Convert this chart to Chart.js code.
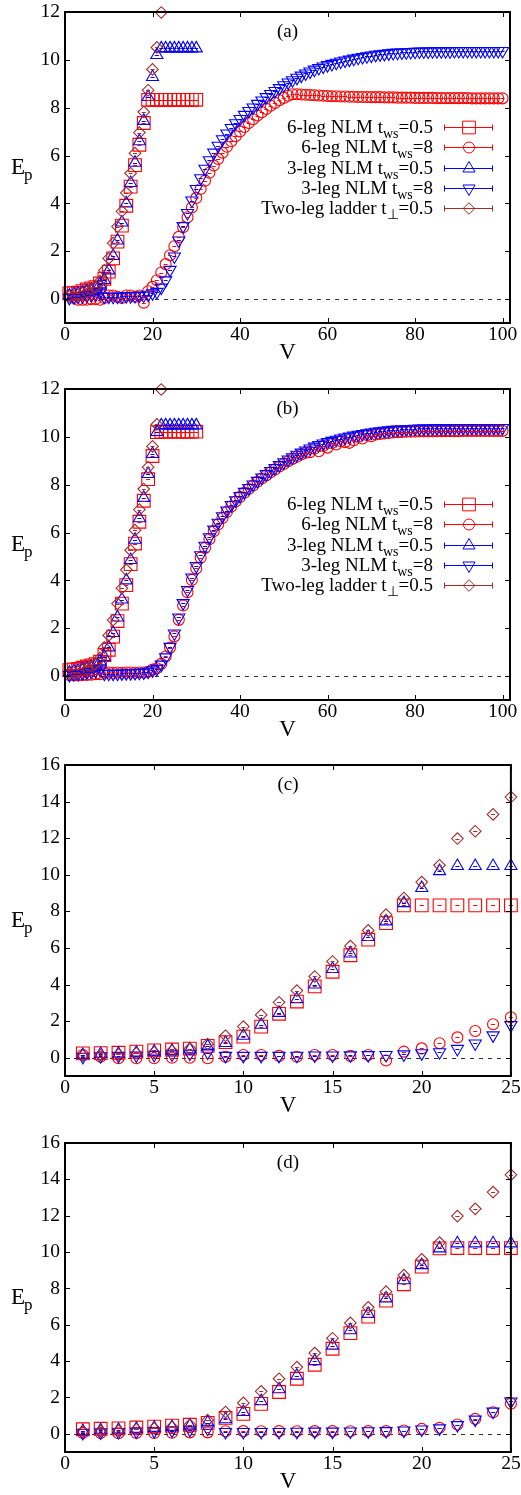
<!DOCTYPE html>
<html>
<head>
<meta charset="utf-8">
<title>Ep vs V</title>
<script src="https://cdn.jsdelivr.net/npm/chart.js@4.4.1/dist/chart.umd.min.js"></script>
<style>
  body { margin: 0; background: #fff; }
  canvas { display: block; }
</style>
</head>
<body>
<canvas id="panelA" width="521" height="370"></canvas>
<canvas id="panelB" width="521" height="370"></canvas>
<canvas id="panelC" width="521" height="380"></canvas>
<canvas id="panelD" width="521" height="375"></canvas>
<script>
// V grids
const vShort = [1, 2, 3, 4, 5, 6, 7, 8, 9, 10, 11, 12, 13, 14, 15, 16, 17, 18, 19, 20,
  21, 22, 23, 24, 25, 26, 27, 28, 29, 30];
const vLong = [1, 2, 3, 4, 5, 6, 7, 8, 9, 10, 11, 12, 13, 14, 15, 16, 17, 18, 19, 20,
  21, 22, 23, 24, 25, 26, 27, 28, 29, 30, 31, 32, 33, 34, 35, 36, 37, 38, 39, 40,
  41, 42, 43, 44, 45, 46, 47, 48, 49, 50, 51, 52, 53, 54, 55, 56, 57, 58, 59, 60,
  61, 62, 63, 64, 65, 66, 67, 68, 69, 70, 71, 72, 73, 74, 75, 76, 77, 78, 79, 80,
  81, 82, 83, 84, 85, 86, 87, 88, 89, 90, 91, 92, 93, 94, 95, 96, 97, 98, 99, 100];

// 6-leg NLM, t_ws = 0.5 (top row: a/c, bottom row: b/d)
const ep6ws05A = [0.24, 0.25, 0.27, 0.33, 0.40, 0.45, 0.50, 0.65, 0.85, 1.15,
  1.70, 2.40, 3.07, 3.90, 4.70, 5.60, 6.45, 7.36, 8.33, 8.33,
  8.33, 8.33, 8.33, 8.33, 8.33, 8.33, 8.33, 8.33, 8.33, 8.33];
const ep6ws05B = [0.25, 0.28, 0.30, 0.35, 0.40, 0.45, 0.50, 0.60, 0.88, 1.10,
  1.65, 2.30, 3.03, 3.80, 4.68, 5.54, 6.45, 7.33, 8.23, 9.20,
  10.20, 10.22, 10.22, 10.22, 10.22, 10.22, 10.22, 10.22, 10.22, 10.22];

// 6-leg NLM, t_ws = 8
const ep6ws8A = [0.15, 0.05, -0.03, -0.03, -0.03, 0.00, 0.00, -0.03, 0.05, 0.15,
  0.15, 0.10, 0.05, 0.15, 0.15, 0.10, 0.15, -0.15, 0.33, 0.51,
  0.79, 1.11, 1.46, 1.83, 2.21, 2.60, 3.00, 3.42, 3.83, 4.23,
  4.60, 4.95, 5.28, 5.58, 5.86, 6.12, 6.37, 6.60, 6.81, 7.01,
  7.19, 7.36, 7.52, 7.67, 7.81, 7.95, 8.08, 8.20, 8.31, 8.41,
  8.50, 8.56, 8.56, 8.55, 8.54, 8.53, 8.52, 8.51, 8.50, 8.49,
  8.48, 8.48, 8.47, 8.47, 8.46, 8.46, 8.45, 8.45, 8.45, 8.44,
  8.44, 8.44, 8.43, 8.43, 8.43, 8.42, 8.42, 8.42, 8.42, 8.41,
  8.41, 8.41, 8.41, 8.41, 8.40, 8.40, 8.40, 8.40, 8.40, 8.40,
  8.40, 8.40, 8.39, 8.39, 8.39, 8.39, 8.39, 8.39, 8.39, 8.39];
const ep6ws8B = [0.05, 0.04, 0.03, 0.05, 0.05, 0.06, 0.08, 0.08, 0.14, 0.15,
  0.14, 0.15, 0.14, 0.15, 0.15, 0.14, 0.15, 0.15, 0.18, 0.27,
  0.33, 0.51, 0.82, 1.19, 1.66, 2.35, 2.95, 3.50, 4.02, 4.50,
  4.95, 5.36, 5.72, 6.05, 6.34, 6.61, 6.86, 7.09, 7.30, 7.49,
  7.66, 7.82, 7.97, 8.12, 8.26, 8.39, 8.52, 8.64, 8.76, 8.87,
  8.98, 9.08, 9.17, 9.26, 9.34, 9.36, 9.50, 9.40, 9.62, 9.55,
  9.74, 9.68, 9.82, 9.78, 9.75, 9.86, 10.00, 9.93, 10.08, 10.03,
  10.10, 10.12, 10.14, 10.16, 10.18, 10.19, 10.20, 10.21, 10.22, 10.22,
  10.23, 10.23, 10.23, 10.23, 10.24, 10.24, 10.24, 10.24, 10.24, 10.24,
  10.25, 10.25, 10.25, 10.25, 10.25, 10.25, 10.25, 10.25, 10.25, 10.25];

// 3-leg NLM, t_ws = 0.5 and t_ws = 8
const ep3ws05 = [0.15, 0.20, 0.22, 0.28, 0.33, 0.38, 0.45, 0.62, 0.80, 1.20,
  1.80, 2.45, 3.20, 4.00, 4.85, 5.70, 6.60, 7.45, 8.45, 9.28,
  10.20, 10.48, 10.48, 10.48, 10.48, 10.48, 10.48, 10.48, 10.48, 10.48];
const ep3ws8 = [0.05, 0.08, 0.10, 0.12, 0.15, 0.18, 0.22, 0.28, 0.10, 0.10,
  0.10, 0.10, 0.11, 0.12, 0.12, 0.13, 0.14, 0.15, 0.18, 0.24,
  0.30, 0.48, 0.78, 1.22, 1.78, 2.45, 3.05, 3.60, 4.12, 4.60,
  5.05, 5.45, 5.80, 6.12, 6.41, 6.68, 6.92, 7.15, 7.35, 7.53,
  7.70, 7.86, 8.01, 8.16, 8.30, 8.44, 8.57, 8.70, 8.82, 8.94,
  9.05, 9.15, 9.25, 9.34, 9.43, 9.51, 9.59, 9.66, 9.72, 9.78,
  9.83, 9.88, 9.93, 9.97, 10.01, 10.05, 10.09, 10.12, 10.15, 10.18,
  10.21, 10.23, 10.25, 10.27, 10.29, 10.30, 10.31, 10.32, 10.33, 10.34,
  10.35, 10.35, 10.35, 10.36, 10.36, 10.36, 10.36, 10.36, 10.37, 10.37,
  10.37, 10.37, 10.37, 10.37, 10.37, 10.37, 10.37, 10.37, 10.37, 10.37];

// two-leg ladder, t_perp = 0.5
const epLadder = [0.12, 0.15, 0.18, 0.25, 0.30, 0.38, 0.50, 0.75, 1.20, 1.70,
  2.34, 3.03, 3.67, 4.44, 5.26, 6.10, 6.96, 7.82, 8.73, 9.60,
  10.52, 11.98, 12.38, 13.30, 14.25];

const xTicksWide = [0, 20, 40, 60, 80, 100];
const xTicksNarrow = [0, 5, 10, 15, 20, 25];
const yTicksLow = [0, 2, 4, 6, 8, 10, 12];
const yTicksHigh = [0, 2, 4, 6, 8, 10, 12, 14, 16];

const legendLabels = [
  ["6-leg NLM t", "ws", "=0.5"],
  ["6-leg NLM t", "ws", "=8"],
  ["3-leg NLM t", "ws", "=0.5"],
  ["3-leg NLM t", "ws", "=8"],
  ["Two-leg ladder t", "\u22a5", "=0.5"]
];

const SERIF = "'Liberation Serif', 'Times New Roman', serif";

const markers = [
  { color: "#ff0000", pointStyle: "rect", radius: 9, rotation: 0 },
  { color: "#ff0000", pointStyle: "circle", radius: 5.5, rotation: 0 },
  { color: "#0000ff", pointStyle: "triangle", radius: 7, rotation: 0 },
  { color: "#0000ff", pointStyle: "triangle", radius: 7, rotation: 180 },
  { color: "#a52a2a", pointStyle: "rectRot", radius: 5.8, rotation: 0 }
];

function toPoints(xs, ys, xMax, yMax) {
  const out = [];
  for (let i = 0; i < ys.length; i++) {
    if (xs[i] <= xMax && ys[i] <= yMax) out.push({ x: xs[i], y: ys[i] });
  }
  return out;
}

const framePlugin = {
  id: "frame",
  beforeDatasetsDraw(chart) {
    const { ctx, chartArea: a } = chart;
    const y0 = Math.round(chart.scales.y.getPixelForValue(0)) + 0.5;
    ctx.save();
    ctx.strokeStyle = "#333";
    ctx.lineWidth = 1;
    ctx.setLineDash([4, 5]);
    ctx.beginPath();
    ctx.moveTo(a.left, y0);
    ctx.lineTo(a.right, y0);
    ctx.stroke();
    ctx.restore();
  },
  afterDatasetsDraw(chart) {
    // tiny error bars at each point
    const ctx = chart.ctx;
    ctx.save();
    ctx.lineWidth = 1;
    chart.data.datasets.forEach((ds, i) => {
      ctx.strokeStyle = ds.borderColor;
      chart.getDatasetMeta(i).data.forEach(pt => {
        const yy = Math.round(pt.y) + 0.5;
        ctx.beginPath();
        ctx.moveTo(pt.x - 2, yy);
        ctx.lineTo(pt.x + 2, yy);
        ctx.stroke();
      });
    });
    ctx.restore();
  },
  afterDraw(chart, args, opts) {
    const { ctx, chartArea: a, scales: { x, y } } = chart;
    ctx.save();
    // inward ticks on all four sides
    ctx.strokeStyle = "#000";
    ctx.lineWidth = 1;
    ctx.beginPath();
    x.ticks.forEach(t => {
      const px = Math.round(x.getPixelForValue(t.value)) + 0.5;
      ctx.moveTo(px, a.bottom); ctx.lineTo(px, a.bottom - 5);
      ctx.moveTo(px, a.top); ctx.lineTo(px, a.top + 5);
    });
    y.ticks.forEach(t => {
      const py = Math.round(y.getPixelForValue(t.value)) + 0.5;
      ctx.moveTo(a.left, py); ctx.lineTo(a.left + 5, py);
      ctx.moveTo(a.right, py); ctx.lineTo(a.right - 5, py);
    });
    ctx.stroke();
    // border
    ctx.lineWidth = 2;
    ctx.strokeRect(a.left, a.top, a.right - a.left, a.bottom - a.top);

    ctx.fillStyle = "#000";
    const midX = (a.left + a.right) / 2;
    const midY = (a.top + a.bottom) / 2;
    // panel tag
    ctx.font = "19px " + SERIF;
    ctx.textAlign = "center";
    ctx.textBaseline = "middle";
    ctx.fillText(opts.tag, midX, a.top + 20);
    // axis titles
    ctx.font = "23px " + SERIF;
    ctx.fillText("V", midX, a.bottom + 30);
    ctx.textAlign = "left";
    ctx.textBaseline = "alphabetic";
    ctx.fillText("E", 11, midY + 6);
    ctx.font = "17px " + SERIF;
    ctx.fillText("p", 24, midY + 12);

    if (opts.legend) {
      const textRight = 433;
      const sampleL = 444, sampleR = 493, sampleX = 469;
      chart.data.datasets.forEach((ds, i) => {
        const rowY = a.top + 114.7 + i * 20.4;
        const parts = legendLabels[i];
        ctx.font = "19px " + SERIF;
        const w0 = ctx.measureText(parts[0]).width;
        const w2 = ctx.measureText(parts[2]).width;
        ctx.font = "14px " + SERIF;
        const w1 = ctx.measureText(parts[1]).width;
        let tx = textRight - (w0 + w1 + w2);
        const base = rowY + 6;
        ctx.fillStyle = "#000";
        ctx.textAlign = "left";
        ctx.textBaseline = "alphabetic";
        ctx.font = "19px " + SERIF;
        ctx.fillText(parts[0], tx, base);
        tx += w0;
        ctx.font = "14px " + SERIF;
        ctx.fillText(parts[1], tx, base + 5);
        tx += w1;
        ctx.font = "19px " + SERIF;
        ctx.fillText(parts[2], tx, base);
        // error bar sample
        const ly = Math.round(rowY) + 0.5;
        ctx.strokeStyle = ds.borderColor;
        ctx.lineWidth = 1;
        ctx.beginPath();
        ctx.moveTo(sampleL, ly); ctx.lineTo(sampleR, ly);
        ctx.moveTo(sampleL + 0.5, ly - 3); ctx.lineTo(sampleL + 0.5, ly + 3);
        ctx.moveTo(sampleR - 0.5, ly - 3); ctx.lineTo(sampleR - 0.5, ly + 3);
        ctx.stroke();
        ctx.fillStyle = "rgba(0,0,0,0)";
        Chart.helpers.drawPoint(ctx, {
          pointStyle: ds.pointStyle,
          rotation: ds.pointRotation,
          radius: ds.pointRadius,
          borderWidth: 1
        }, sampleX, ly);
      });
    }
    ctx.restore();
  }
};

function buildPanel(cfg) {
  const series = [
    [vShort, cfg.six05],
    [vLong, cfg.six8],
    [vShort, ep3ws05],
    [vLong, ep3ws8],
    [vShort, epLadder]
  ];
  const datasets = series.map((s, i) => ({
    label: legendLabels[i].join(""),
    data: toPoints(s[0], s[1], cfg.xMax, cfg.yMax),
    showLine: false,
    borderColor: markers[i].color,
    backgroundColor: "rgba(0,0,0,0)",
    borderWidth: 1,
    pointStyle: markers[i].pointStyle,
    pointRadius: markers[i].radius,
    pointRotation: markers[i].rotation,
    pointBorderWidth: 1.1,
    clip: false,
    order: 4 - i
  }));

  const tickFont = { family: SERIF, size: 19.5 };
  new Chart(document.getElementById(cfg.id), {
    type: "scatter",
    data: { datasets },
    plugins: [framePlugin],
    options: {
      responsive: false,
      animation: false,
      events: [],
      layout: { padding: { top: cfg.top, right: cfg.right, bottom: 0, left: 0 } },
      plugins: {
        legend: { display: false },
        tooltip: { enabled: false },
        frame: { tag: cfg.tag, legend: cfg.legend }
      },
      scales: {
        x: {
          type: "linear",
          min: 0,
          max: cfg.xMax,
          grid: { display: false, drawTicks: false },
          border: { display: false },
          ticks: { font: tickFont, color: "#000", padding: 0, maxRotation: 0, autoSkip: false },
          afterBuildTicks: s => { s.ticks = cfg.xTicks.map(v => ({ value: v })); },
          afterFit: s => { s.height = cfg.xAxisH; s.paddingLeft = 0; s.paddingRight = 0; }
        },
        y: {
          type: "linear",
          min: -1,
          max: cfg.yMax,
          grid: { display: false, drawTicks: false },
          border: { display: false },
          ticks: { font: tickFont, color: "#000", padding: 5, autoSkip: false },
          afterBuildTicks: s => { s.ticks = cfg.yTicks.map(v => ({ value: v })); },
          afterFit: s => { s.width = 65; s.paddingTop = 0; s.paddingBottom = 0; }
        }
      }
    }
  });
}

buildPanel({ id: "panelA", tag: "(a)", six05: ep6ws05A, six8: ep6ws8A, xMax: 101.7, yMax: 12,
  xTicks: xTicksWide, yTicks: yTicksLow, legend: true, top: 12, right: 11, xAxisH: 47 });
buildPanel({ id: "panelB", tag: "(b)", six05: ep6ws05B, six8: ep6ws8B, xMax: 101.7, yMax: 12,
  xTicks: xTicksWide, yTicks: yTicksLow, legend: true, top: 19, right: 11, xAxisH: 40 });
buildPanel({ id: "panelC", tag: "(c)", six05: ep6ws05A, six8: ep6ws8A, xMax: 25, yMax: 16,
  xTicks: xTicksNarrow, yTicks: yTicksHigh, legend: false, top: 25, right: 10, xAxisH: 44 });
buildPanel({ id: "panelD", tag: "(d)", six05: ep6ws05B, six8: ep6ws8B, xMax: 25, yMax: 16,
  xTicks: xTicksNarrow, yTicks: yTicksHigh, legend: false, top: 23, right: 10, xAxisH: 43 });
</script>
</body>
</html>
